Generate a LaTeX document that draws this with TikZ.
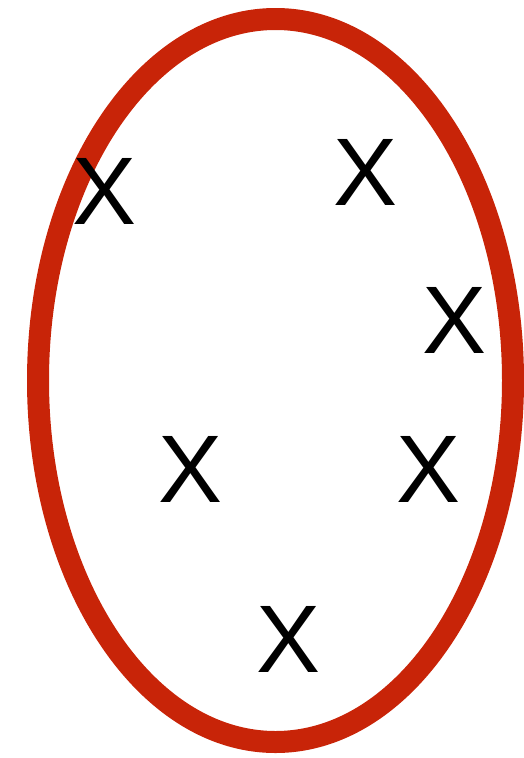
\documentclass[tikz,border=0pt]{standalone}
\usepackage{fontspec}
\setmainfont{Liberation Sans}
\definecolor{ringred}{RGB}{200,36,8}

\begin{document}
\begin{tikzpicture}[
    x=1pt, y=-1pt,
    ring/.style={draw=ringred, line width=22pt},
    pt/.style={inner sep=0pt, font=\fontsize{96}{96}\selectfont}
]
    \useasboundingbox (0, 0) rectangle (524, 758);

    \draw[ring] (275.5, 380.5) ellipse [x radius=237.5pt, y radius=361.5pt];

    \node[pt] (p1) at (105, 191) {X};
    \node[pt] (p2) at (366, 172) {X};
    \node[pt] (p3) at (455, 320) {X};
    \node[pt] (p4) at (191, 469) {X};
    \node[pt] (p5) at (429, 469) {X};
    \node[pt] (p6) at (289, 639) {X};
\end{tikzpicture}
\end{document}
